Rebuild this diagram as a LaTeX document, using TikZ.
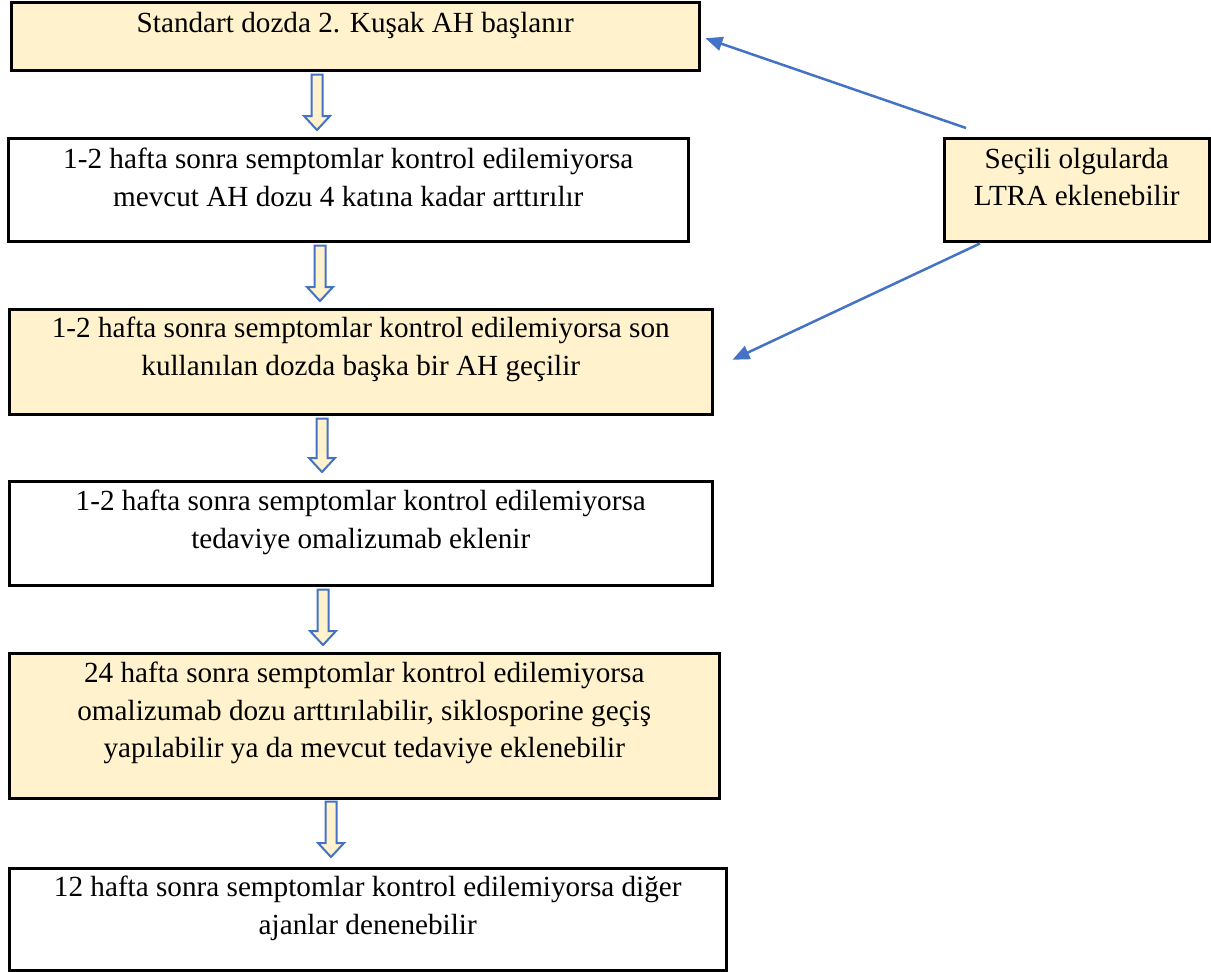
\documentclass[tikz,border=0pt]{standalone}
\usepackage{fontspec}
\setmainfont{Liberation Serif}
\newfontfamily\flowfont{Liberation Serif}
\usetikzlibrary{positioning,calc,arrows.meta}
\definecolor{boxyellow}{HTML}{FFF2CC}
\definecolor{linkblue}{HTML}{4472C4}
\tikzset{
  box/.style={draw=black, line width=2.5pt, anchor=north west, inner sep=0pt},
  yellowbox/.style={box, fill=boxyellow},
  txt/.style={align=center, font=\flowfont\fontsize{29.2}{37.3}\selectfont, inner sep=0pt},
  fat/.style={draw=linkblue, fill=boxyellow, line width=2pt, line join=miter,
    to path={let \p1=(\tikztostart), \p2=(\tikztotarget) in
      (\x1-5.5pt,\y1) -- (\x1+5.5pt,\y1) -- (\x1+5.5pt,\y2+14pt) -- (\x1+13pt,\y2+14pt)
      -- (\x1,\y2) -- (\x1-13pt,\y2+14pt) -- (\x1-5.5pt,\y2+14pt) -- cycle}},
  link/.style={draw=linkblue, line width=2.5pt, -{Triangle[length=17pt,width=14pt]}}
}

\begin{document}
\begin{tikzpicture}[x=1pt,y=-1pt]
\useasboundingbox (0,0) rectangle (1211,972);

% boxes of the flow
\node[yellowbox, minimum width=688, minimum height=68]  (b1) at (10,1)   {};
\node[box,       minimum width=680, minimum height=103] (b2) at (7,137)  {};
\node[yellowbox, minimum width=703, minimum height=105] (b3) at (8,308)  {};
\node[box,       minimum width=703, minimum height=104] (b4) at (8,480)  {};
\node[yellowbox, minimum width=710, minimum height=145] (b5) at (8,652)  {};
\node[box,       minimum width=717, minimum height=102] (b6) at (8,867)  {};
\node[yellowbox, minimum width=265, minimum height=103] (side) at (943,137) {};

\node[txt, below=11pt of b1.north] (t1) {Standart dozda 2. Kuşak AH başlanır};
\node[txt, below=11pt of b2.north] (t2) {1-2 hafta sonra semptomlar kontrol edilemiyorsa\\mevcut AH dozu 4 katına kadar arttırılır};
\node[txt, below=9pt of b3.north]  (t3) {1-2 hafta sonra semptomlar kontrol edilemiyorsa son\\kullanılan dozda başka bir AH geçilir};
\node[txt, below=10pt of b4.north] (t4) {1-2 hafta sonra semptomlar kontrol edilemiyorsa\\tedaviye omalizumab eklenir};
\node[txt, below=10pt of b5.north] (t5) {24 hafta sonra semptomlar kontrol edilemiyorsa\\omalizumab dozu arttırılabilir, siklosporine geçiş\\yapılabilir ya da mevcut tedaviye eklenebilir};
\node[txt, below=9pt of b6.north]  (t6) {12 hafta sonra semptomlar kontrol edilemiyorsa diğer\\ajanlar denenebilir};
\node[txt, below=11pt of side.north] (ts) {Seçili olgularda\\LTRA eklenebilir};

% hollow arrows down the flow
\coordinate (ax1) at (317,0);
\coordinate (ax2) at (320,0);
\coordinate (ax3) at (322,0);
\coordinate (ax4) at (323,0);
\coordinate (ax5) at (331,0);
\draw[fat] ($(b1.south -| ax1)+(0,3)$) to ($(b2.north -| ax1)+(0,-7)$);
\draw[fat] ($(b2.south -| ax2)+(0,3)$) to ($(b3.north -| ax2)+(0,-7)$);
\draw[fat] ($(b3.south -| ax3)+(0,3)$) to ($(b4.north -| ax3)+(0,-8)$);
\draw[fat] ($(b4.south -| ax4)+(0,3)$) to ($(b5.north -| ax4)+(0,-7)$);
\draw[fat] ($(b5.south -| ax5)+(0,2)$) to ($(b6.north -| ax5)+(0,-10)$);

% LTRA links
\coordinate (l1) at ($(side.north west)+(23,-9)$);
\coordinate (l2) at ($(side.south west)+(37,1)$);
\draw[link] (l1) -- ($(b1.east)+(5,2)$);
\draw[link] (l2) -- ($(b3.east)+(19,-2)$);
\end{tikzpicture}
\end{document}
